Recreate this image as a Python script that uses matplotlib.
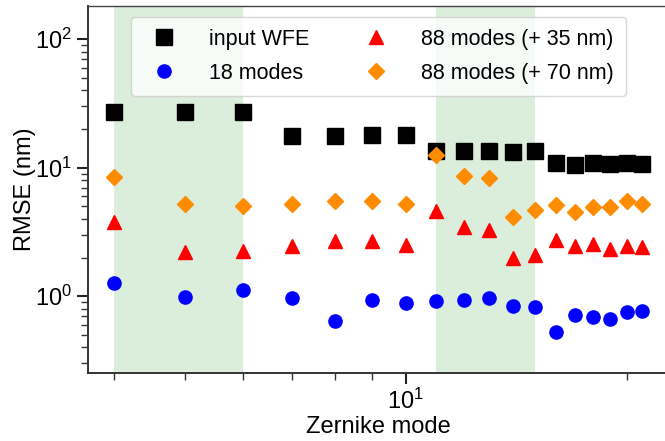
import numpy as np
import matplotlib
matplotlib.use('Agg')
from matplotlib import pyplot as plt
from matplotlib.ticker import LogLocator, NullFormatter

plt.rcParams['font.family'] = ['Liberation Sans', 'DejaVu Sans']
plt.rcParams['mathtext.fontset'] = 'cm'

modes = [4, 5, 6, 7, 8, 9, 10, 11, 12, 13, 14, 15, 16, 17, 18, 19, 20, 21]
input_wfe = [27.0, 27.0, 27.0, 17.7, 17.7, 18.1, 17.9, 13.4, 13.4, 13.4, 13.2, 13.5,
             10.9, 10.5, 10.8, 10.6, 10.9, 10.6]
modes18 = [1.26, 0.99, 1.11, 0.96, 0.64, 0.93, 0.88, 0.92, 0.94, 0.96, 0.84, 0.83,
           0.53, 0.71, 0.69, 0.67, 0.755, 0.765]
modes88_35 = [3.81, 2.19, 2.23, 2.44, 2.67, 2.70, 2.52, 4.63, 3.46, 3.28, 1.97, 2.11,
              2.72, 2.44, 2.57, 2.35, 2.47, 2.43]
modes88_70 = [8.48, 5.23, 5.04, 5.23, 5.55, 5.49, 5.23, 12.5, 8.63, 8.39, 4.17, 4.67,
              5.11, 4.51, 4.93, 4.93, 5.55, 5.23]
shaded = [(4, 6), (11, 15)]

fig = plt.figure(figsize=(6.65, 4.41), dpi=100)
ax = fig.add_axes([0.1323, 0.154, 0.873, 0.832])

for a, b in shaded:
    ax.axvspan(a, b, color='green', alpha=0.14, lw=0, zorder=0)

ax.plot(modes, input_wfe, 's', color='black', ms=11, label='input WFE')
ax.plot(modes, modes18, 'o', color='blue', ms=9.5, label='18 modes')
ax.plot(modes, modes88_35, '^', color='red', ms=9.7, label='88 modes (+ 35 nm)')
ax.plot(modes, modes88_70, 'D', color='darkorange', ms=8.5, label='88 modes (+ 70 nm)')

ax.set_xscale('log')
ax.set_yscale('log')
ax.set_xlim(3.69, 22.8)
ax.set_ylim(0.252, 181)
ax.xaxis.set_minor_locator(LogLocator(base=10, subs=np.arange(2, 10)))
ax.xaxis.set_minor_formatter(NullFormatter())
ax.yaxis.set_minor_formatter(NullFormatter())

ax.tick_params(which='major', length=8, width=1.5, labelsize=17, color='#222222')
ax.tick_params(which='minor', length=5, width=1.0, color='#333333')
for s in ['left', 'bottom']:
    ax.spines[s].set_linewidth(1.4)
    ax.spines[s].set_color('#333333')
ax.spines['top'].set_linewidth(1.0)
ax.spines['top'].set_color('#444444')
ax.spines['right'].set_visible(False)

ax.set_xlabel('Zernike mode', fontsize=17, labelpad=1)
ax.set_ylabel('RMSE (nm)', fontsize=17, labelpad=-1)

ax.legend(loc='upper center', ncol=2, fontsize=15.5, columnspacing=2.1,
          handletextpad=1.1, labelspacing=0.6, borderpad=0.55, numpoints=1)

fig.savefig('out.png', dpi=100)
